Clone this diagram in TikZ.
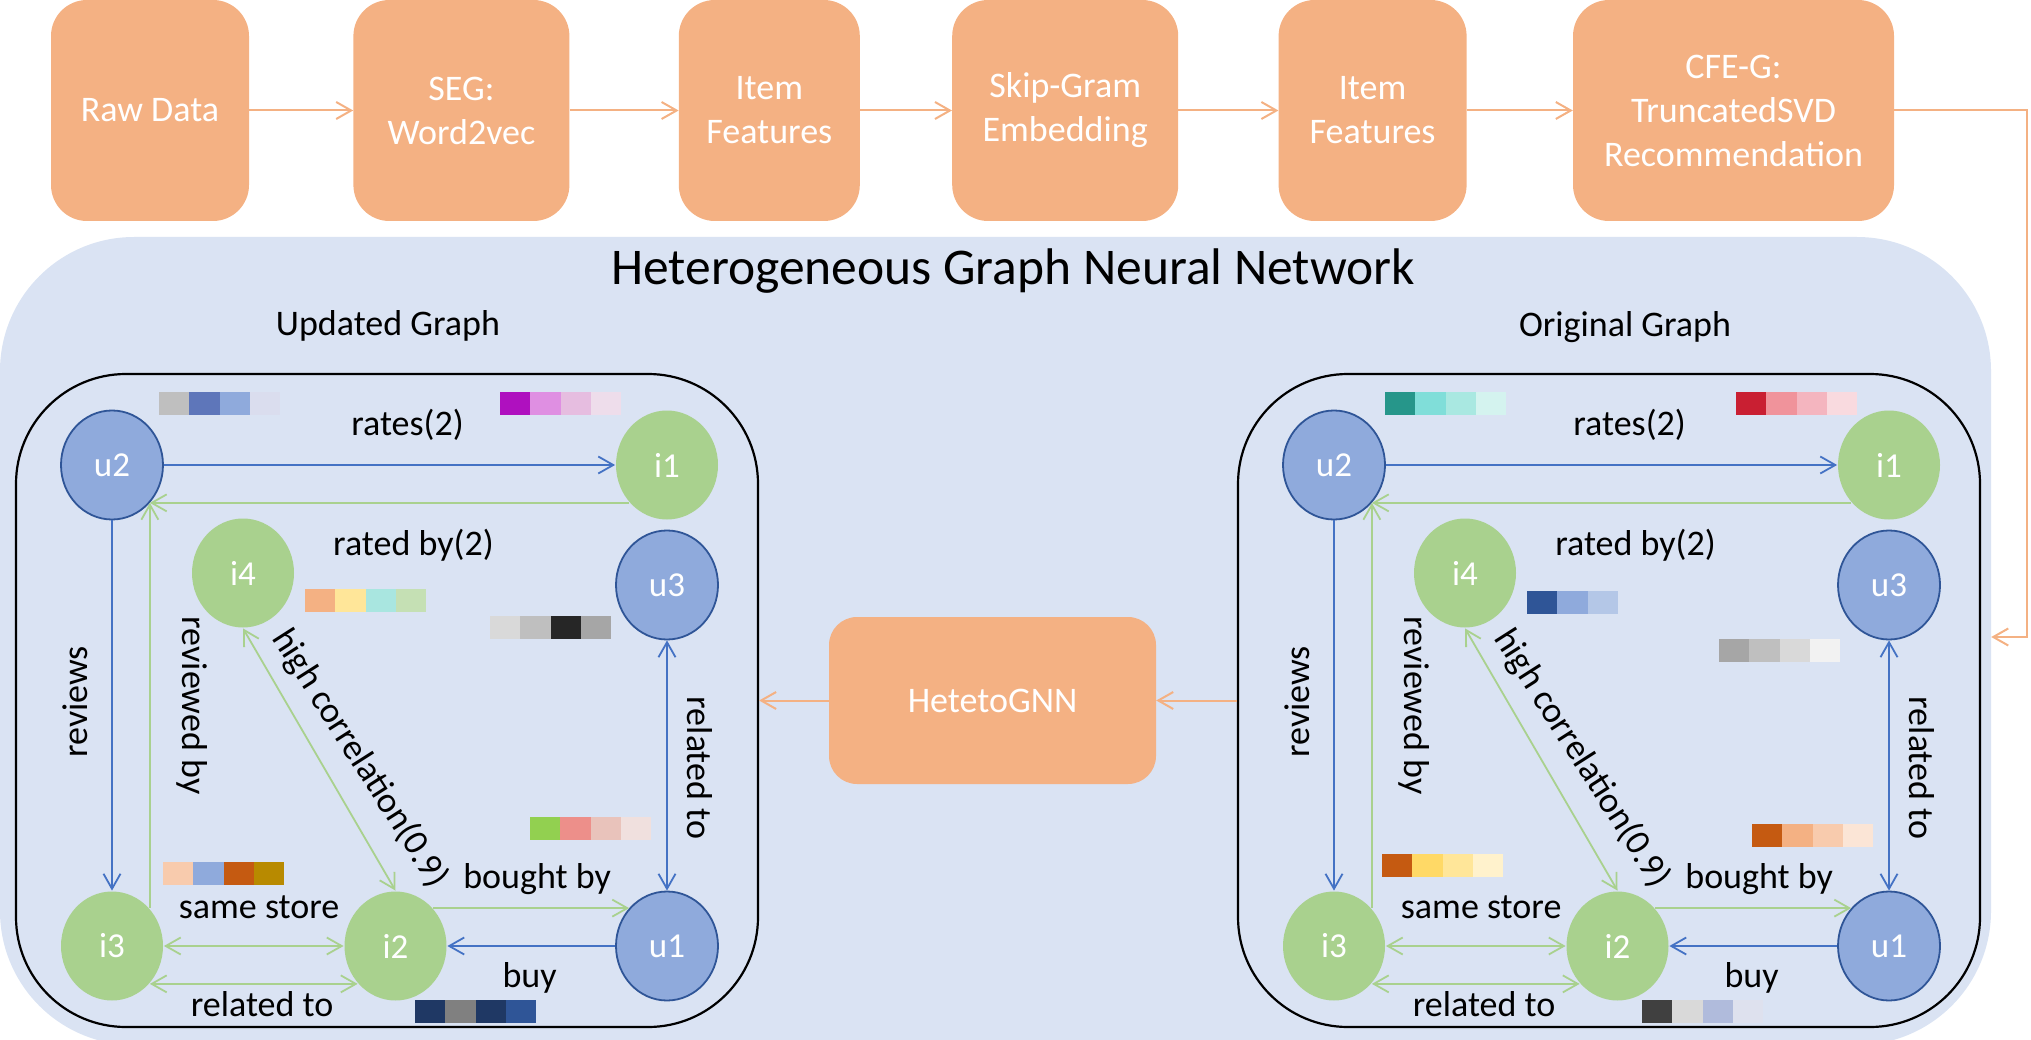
\documentclass[tikz,border=0pt]{standalone}
\usepackage{fontspec}
\setmainfont{Carlito}
\usetikzlibrary{arrows.meta,shapes.geometric,positioning}

\definecolor{stageorange}{HTML}{F4B183}
\definecolor{panelblue}{HTML}{DAE3F3}
\definecolor{userfill}{HTML}{8FAADC}
\definecolor{userline}{HTML}{2F5597}
\definecolor{itemgreen}{HTML}{A9D18E}
\definecolor{relblue}{HTML}{4472C4}

\tikzset{>={Straight Barb[length=15pt,width=17pt]}}
\newcommand\bigfont{\fontsize{51.5}{60}\selectfont}
\newcommand\txtfont{\fontsize{36}{44}\selectfont}
% a row of embedding cells: left, top, colours
\newcommand\featbar[3]{%
  \foreach \c [count=\k from 0] in {#3} {
    \definecolor{cell}{HTML}{\c}
    \fill[cell] (#1+\k*30.3, #2) rectangle ++(30.3, 23);
  }}

\begin{document}
\begin{tikzpicture}[x=1pt, y=-1pt,
    stage/.style={fill=stageorange, text=white, font=\txtfont, align=center,
      rounded corners=36pt, minimum height=221pt, inner sep=0pt},
    panel/.style={fill=panelblue, rounded corners=134pt, inner sep=0pt},
    graphbox/.style={draw, line width=2.2pt, rounded corners=110pt,
      minimum width=742pt, minimum height=653pt},
    user/.style={ellipse, draw=userline, line width=1.8pt, fill=userfill,
      text=white, font=\fontsize{35}{42}\selectfont, minimum width=102pt,
      minimum height=109pt, inner sep=0pt},
    item/.style={user, draw=none, fill=itemgreen},
    rel/.style={draw=relblue, line width=1.8pt},
    link/.style={draw=itemgreen, line width=1.8pt},
    flow/.style={draw=stageorange, line width=2pt, ->},
    lbl/.style={font=\txtfont, inner sep=0pt, anchor=base}]

  \useasboundingbox (0,0) rectangle (2031,1040);
  \node[panel, minimum width=1991pt, minimum height=808pt] (hgnn) at (995.5,641) {};
  \node[font=\bigfont, anchor=base] (title) at (1013,285) {Heterogeneous Graph Neural Network};
  \node[lbl] (upd) at (388,336) {Updated Graph};
  \node[lbl] (orig) at (1625,337) {Original Graph};

  % pipeline
  \node[stage, minimum width=198pt] (raw) at (150,110.5) {Raw Data};
  \node[stage, minimum width=216pt, right=104pt of raw] (seg) {SEG:\\Word2vec};
  \node[stage, minimum width=181pt, right=109pt of seg] (feat1) {Item\\Features};
  \node[stage, minimum width=226pt, right=92pt of feat1] (skip) {Skip-Gram\\Embedding};
  \node[stage, minimum width=188pt, right=100pt of skip] (feat2) {Item\\Features};
  \node[stage, minimum width=321pt, right=106pt of feat2] (cfe) {CFE-G:\\TruncatedSVD\\Recommendation};
  \foreach \a/\b in {raw/seg, seg/feat1, feat1/skip, skip/feat2, feat2/cfe}
    \draw[flow] (\a) -- (\b);
  \coordinate (turn) at (2027,110.5);
  \draw[flow] (cfe) -- (turn) |- ([yshift=4pt]hgnn.east);

  \node[stage, minimum width=327pt, minimum height=167pt, rounded corners=28pt] (gnn) at (992.5,700.5) {HetetoGNN};

  \foreach \g/\dx in {L/0, R/1222} {
    \begin{scope}[xshift=\dx pt]
      \node[graphbox] (\g-box) at (387,700.5) {};
      \node[user] (\g-u2) at (112,465) {u2};
      \node[item] (\g-i1) at (667,465) {i1};
      \node[item] (\g-i4) at (243,573) {i4};
      \node[user] (\g-u3) at (667,585) {u3};
      \node[item] (\g-i3) at (112,946) {i3};
      \node[item] (\g-i2) at (395.5,946) {i2};
      \node[user] (\g-u1) at (667,946) {u1};
      \draw[rel, ->] (\g-u2) -- node[lbl, pos=.54, yshift=30pt] {rates(2)} (\g-i1);
      \draw[link, ->] (\g-i1.225) -- node[lbl, pos=.45, yshift=-53pt] {rated by(2)} (\g-u2.315);
      \draw[rel, ->] (\g-u2) -- node[lbl, pos=.49, xshift=-25pt, rotate=90] {reviews} (\g-i3);
      \draw[link, ->] (\g-i3.45) -- node[lbl, pos=.5, xshift=33pt, rotate=-90] {reviewed by} (\g-u2.315);
      \draw[link, <->] (\g-i4.south) -- node[lbl, pos=.56, xshift=23pt, yshift=11.5pt,
        rotate=-57.5] {high correlation(0.9)} (\g-i2.north);
      \draw[rel, <->] (\g-u3) -- node[lbl, pos=.51, xshift=20pt, rotate=-90] {related to} (\g-u1);
      \draw[link, ->] (\g-i2.45) -- node[lbl, pos=.53, yshift=20pt] {bought by} (\g-u1.135);
      \draw[rel, ->] (\g-u1) -- node[lbl, pos=.51, yshift=-41pt] {buy} (\g-i2);
      \draw[link, <->] (\g-i3) -- node[lbl, pos=.53, yshift=28pt] {same store} (\g-i2);
      \draw[link, <->] (\g-i3.315) -- node[lbl, pos=.54, yshift=-33pt] {related to} (\g-i2.225);
    \end{scope}
  }
  \draw[flow] (R-box) -- (gnn);
  \draw[flow] (gnn) -- (L-box);

  % node embeddings, updated graph
  \featbar{159}{392}{BFBFBF,5E76BA,8FAADC,DADDEE}
  \featbar{500}{392}{AF10BF,DF8FE2,E6BDE0,EEDDEB}
  \featbar{305}{589}{F4B183,FFE699,A9E6E0,C5E0B4}
  \featbar{490}{616}{D9D9D9,BFBFBF,262626,A6A6A6}
  \featbar{530}{817}{92D050,ED8F8A,E9C3BB,F0E0DE}
  \featbar{163}{862}{F8CBAD,8FAADC,C55A11,B88A00}
  \featbar{415}{1000}{1F3864,808080,1F3864,2F5597}
  % node embeddings, original graph
  \featbar{1385}{392}{26968A,80DED9,A9E8E1,D4F3EF}
  \featbar{1736}{392}{C91F32,F0939B,F4B5BF,F9DADF}
  \featbar{1527}{591}{2F5597,8FAADC,B4C7E7}
  \featbar{1719}{639}{A6A6A6,BFBFBF,D9D9D9,F2F2F2}
  \featbar{1752}{824}{C55A11,F4B183,F8CBAD,FBE5D6}
  \featbar{1382}{854}{C55A11,FFD966,FFE699,FFF2CC}
  \featbar{1642}{1000}{404040,D9D9D9,B0BBDC,DEE1EE}
\end{tikzpicture}
\end{document}
